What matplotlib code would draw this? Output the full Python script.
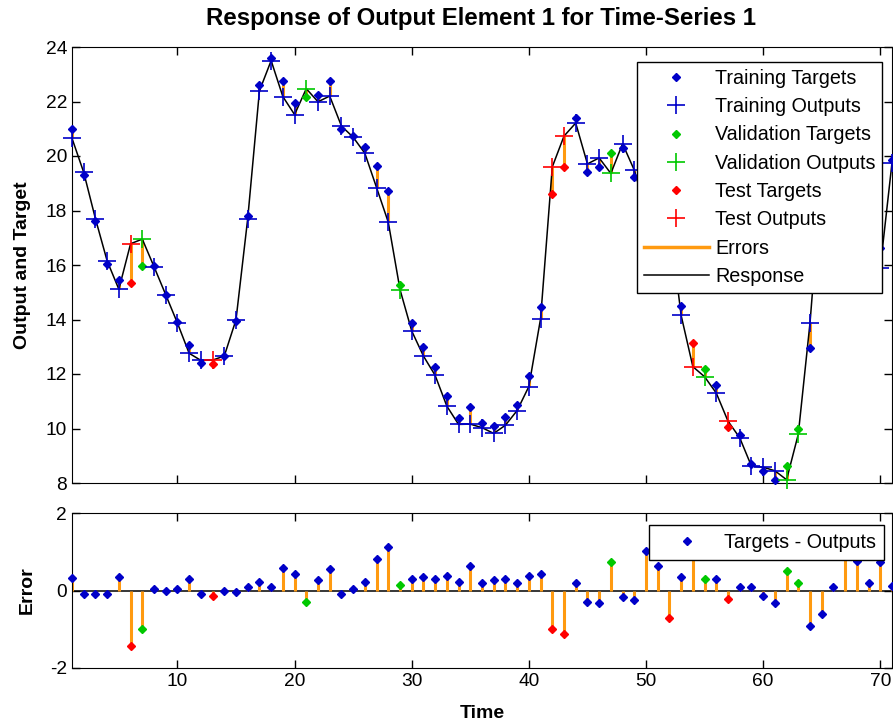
import matplotlib
matplotlib.use('Agg')
import matplotlib.pyplot as plt
import numpy as np
from matplotlib.lines import Line2D

plt.rcParams['font.family'] = ['Liberation Sans', 'DejaVu Sans']
plt.rcParams['axes.unicode_minus'] = False

# ---------------- data ----------------
time = np.arange(1, 72)
targets = [20.98, 19.30, 17.60, 16.05, 15.45, 15.35, 15.95, 15.97, 14.90, 13.90,
           13.06, 12.40, 12.38, 12.66, 13.94, 17.80, 22.62, 23.60, 22.76, 21.94,
           22.18, 22.25, 22.75, 21.00, 20.72, 20.33, 19.65, 18.70, 15.25, 13.88,
           13.00, 12.25, 11.20, 10.38, 10.78, 10.22, 10.08, 10.42, 10.85, 11.92,
           14.45, 18.60, 19.60, 21.40, 19.42, 19.60, 20.10, 20.28, 19.24, 19.00,
           18.60, 16.90, 14.50, 13.15, 12.20, 11.60, 10.05, 9.76, 8.70, 8.45,
           8.12, 8.62, 9.98, 12.95, 18.70, 21.30, 22.60, 21.50, 19.00, 16.64,
           19.87]
outputs = [20.65, 19.40, 17.70, 16.15, 15.11, 16.78, 16.95, 15.94, 14.91, 13.87,
           12.76, 12.50, 12.51, 12.66, 13.99, 17.70, 22.39, 23.50, 22.18, 21.52,
           22.47, 21.99, 22.20, 21.10, 20.69, 20.10, 18.84, 17.57, 15.10, 13.58,
           12.66, 11.95, 10.82, 10.15, 10.16, 10.03, 9.82, 10.12, 10.66, 11.54,
           14.03, 19.60, 20.73, 21.21, 19.71, 19.93, 19.36, 20.45, 19.48, 17.99,
           17.98, 17.62, 14.15, 12.27, 11.90, 11.30, 10.27, 9.66, 8.62, 8.58,
           8.45, 8.12, 9.79, 13.87, 19.31, 21.22, 21.50, 20.73, 18.81, 15.90,
           19.75]
validation_steps = [7, 21, 29, 47, 55, 62, 63]
test_steps = [6, 13, 42, 43, 52, 54, 57]

title = 'Response of Output Element 1 for Time-Series 1'
xticks = [10, 20, 30, 40, 50, 60, 70]
yticks_top = [8, 10, 12, 14, 16, 18, 20, 22, 24]
yticks_bot = [-2, 0, 2]

# ---------------- styling ----------------
T = np.array(targets)
O = np.array(outputs)
E = T - O
is_val = np.isin(time, validation_steps)
is_test = np.isin(time, test_steps)
is_train = ~(is_val | is_test)

c_train = '#0000C8'
c_val = '#00C800'
c_test = '#FF0000'
c_err = '#FF9A10'
FS = 13.8
LFS = 14.2

fig = plt.figure(figsize=(8.93, 7.22), dpi=100)
ax1 = fig.add_axes([72/893, 1 - 483/722, 820/893, 436/722])
ax2 = fig.add_axes([72/893, 1 - 668/722, 820/893, 155/722])

dot_kw = dict(ls='none', marker='D', ms=4.3, clip_on=False)
plus_kw = dict(ls='none', marker='+', ms=13, mew=1.2, clip_on=False)

# top panel
ax1.vlines(time, O, T, color=c_err, lw=2.2, zorder=1)
ax1.plot(time, O, color='k', lw=1.1, zorder=2)
for m, c in [(is_train, c_train), (is_val, c_val), (is_test, c_test)]:
    ax1.plot(time[m], T[m], color=c, zorder=3, **dot_kw)
    ax1.plot(time[m], O[m], color=c, zorder=4, **plus_kw)

ax1.set_xlim(1, 71)
ax1.set_ylim(8, 24)
ax1.set_xticks(xticks)
ax1.set_yticks(yticks_top)
ax1.tick_params(direction='in', top=True, right=True, length=6, width=1,
                labelsize=FS, labelbottom=False)
ax1.set_ylabel('Output and Target', fontsize=14, fontweight='bold')
ax1.yaxis.set_label_coords(-0.050, 0.5)

handles = [
    Line2D([], [], color=c_train, **dot_kw),
    Line2D([], [], color=c_train, **plus_kw),
    Line2D([], [], color=c_val, **dot_kw),
    Line2D([], [], color=c_val, **plus_kw),
    Line2D([], [], color=c_test, **dot_kw),
    Line2D([], [], color=c_test, **plus_kw),
    Line2D([], [], color=c_err, lw=2.5),
    Line2D([], [], color='k', lw=1.1),
]
labels = ['Training Targets', 'Training Outputs', 'Validation Targets',
          'Validation Outputs', 'Test Targets', 'Test Outputs', 'Errors', 'Response']
leg1 = ax1.legend(handles, labels, loc='upper left',
                  bbox_to_anchor=(637/893, 1 - 62/722), bbox_transform=fig.transFigure,
                  borderaxespad=0, fontsize=LFS, handlelength=3.3, handletextpad=0.3,
                  borderpad=0.35, labelspacing=0.47, fancybox=False, framealpha=1,
                  edgecolor='k')
leg1.get_frame().set_linewidth(1.0)
leg1.set_zorder(10)

# bottom panel
ax2.axhline(0, color='k', lw=1.1, zorder=1)
ax2.vlines(time, 0, E, color=c_err, lw=2.2, zorder=2)
for m, c in [(is_train, c_train), (is_val, c_val), (is_test, c_test)]:
    ax2.plot(time[m], E[m], color=c, zorder=3, **dot_kw)

ax2.set_xlim(1, 71)
ax2.set_ylim(-2, 2)
ax2.set_xticks(xticks)
ax2.set_yticks(yticks_bot)
ax2.tick_params(direction='in', top=True, right=True, length=6, width=1,
                labelsize=FS)
ax2.set_ylabel('Error', fontsize=14, fontweight='bold')
ax2.yaxis.set_label_coords(-0.044, 0.5)
ax2.set_xlabel('Time', fontsize=14, fontweight='bold')
ax2.xaxis.set_label_coords(0.5, -0.24)

leg2 = ax2.legend([Line2D([], [], color=c_train, **dot_kw)], ['Targets - Outputs'],
                  loc='upper left', bbox_to_anchor=(649/893, 1 - 525/722),
                  bbox_transform=fig.transFigure, borderaxespad=0, fontsize=LFS,
                  handlelength=3.1, handletextpad=0.3, borderpad=0.4,
                  fancybox=False, framealpha=1, edgecolor='k')
leg2.get_frame().set_linewidth(1.0)
leg2.set_zorder(10)

fig.text(481/893, 1 - 18/722, title, ha='center', va='center',
         fontsize=17.3, fontweight='bold')

fig.savefig('out.png', dpi=100)
